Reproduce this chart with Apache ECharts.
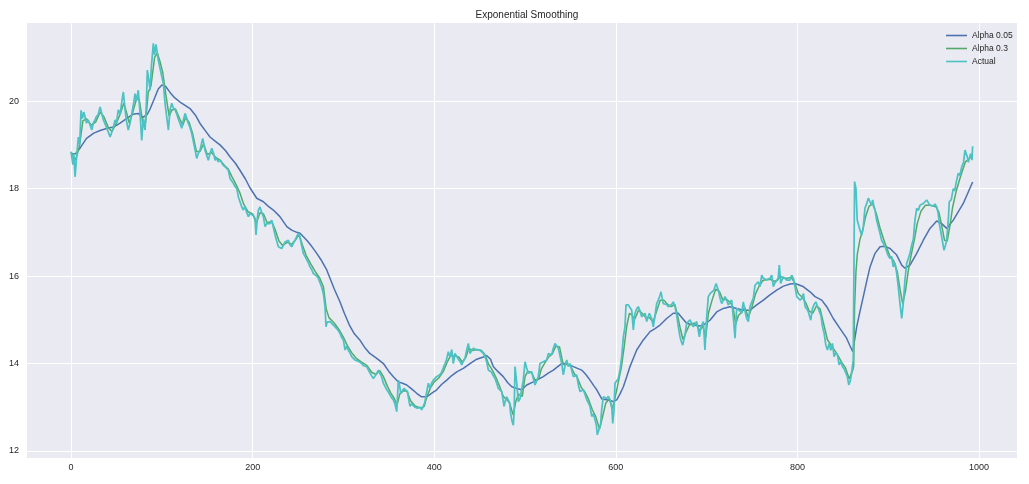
<!DOCTYPE html>
<html><head><meta charset="utf-8">
<script src="https://cdn.jsdelivr.net/npm/echarts@6/dist/echarts.min.js"></script>
<style>html,body{margin:0;padding:0;background:#fff}#c{width:1029px;height:484px}</style>
</head><body><div id="c"></div><script>
const chartTitle = "Exponential Smoothing";
const seriesNames = ["Alpha 0.05", "Alpha 0.3", "Actual"];

// [index, value]
const actual = [[0,18.84],[2,18.55],[3,18.8],[4.4,18.27],[6,18.7],[8,19.18],[9.5,19.0],[11,19.79],[12.5,19.6],[14,19.75],[15.4,19.72],[17,19.5],[19,19.57],[21,19.45],[22.8,19.34],[24.5,19.5],[26.4,19.57],[28,19.65],[30,19.7],[32,19.87],[34,19.7],[35.6,19.57],[38,19.45],[40,19.35],[43,19.18],[45,19.3],[46.5,19.4],[48.5,19.57],[50,19.5],[52,19.8],[54,19.7],[55.8,19.98],[57.6,20.21],[59.5,19.8],[61,19.55],[63,19.34],[65,19.5],[66.9,19.72],[68.5,19.9],[70.5,20.17],[72,20.0],[74,20.25],[76,19.72],[77.8,19.1],[79.5,19.6],[81.5,19.34],[83,20.0],[84,20.71],[85.5,20.5],[87,20.25],[88.5,20.8],[90.6,21.32],[92,21.05],[93.5,21.3],[95,21.1],[96.1,20.94],[98,20.75],[99.9,20.56],[101.7,20.4],[103.5,19.95],[105,19.7],[107.2,19.34],[109,19.8],[110.9,19.95],[112.5,19.85],[114.5,19.8],[116.5,19.7],[118,19.6],[120,19.49],[121.9,19.38],[123.5,19.55],[125.6,19.72],[127.5,19.6],[129.2,19.49],[131,19.4],[132.9,19.26],[134.5,19.1],[136.6,18.88],[138.4,18.69],[140,18.8],[142,18.88],[145,19.15],[147.6,18.88],[149.5,18.75],[151.2,18.65],[153,18.8],[155,18.92],[157,18.8],[158.6,18.65],[160,18.7],[162.2,18.61],[164.5,18.65],[167,18.55],[169.6,18.5],[171.5,18.48],[173.2,18.42],[175.1,18.23],[177,18.2],[178.7,18.12],[180.5,18.05],[182.5,18.0],[184.3,17.81],[186,17.85],[188,17.58],[189.8,17.51],[191.5,17.6],[193.5,17.45],[195.3,17.36],[197,17.43],[199,17.43],[201,17.38],[202.6,17.32],[203.7,16.94],[205,17.3],[206.3,17.51],[208.1,17.58],[210,17.45],[211.8,17.36],[213.7,17.13],[215.5,17.2],[217.3,17.24],[219,17.2],[221,17.28],[223,17.1],[224.7,16.94],[226.5,16.8],[228.3,16.67],[230,16.7],[232,16.63],[233.8,16.7],[235.7,16.78],[237.5,16.75],[239.3,16.82],[241,16.72],[243,16.67],[244.8,16.75],[246.7,16.82],[248.5,16.9],[250.3,16.98],[252,16.9],[254,16.7],[255.8,16.52],[257.7,16.45],[259.6,16.37],[261.5,16.3],[263.2,16.21],[265,16.15],[266.8,16.06],[268.7,16.1],[270.5,16.0],[272.3,15.95],[274.2,15.91],[276,15.75],[277.9,15.6],[279.7,15.3],[280.8,14.84],[282,14.95],[283.4,14.99],[285.2,14.96],[287.1,14.92],[289,14.88],[290.7,14.86],[292.5,14.8],[294.4,14.75],[296,14.7],[298,14.6],[299.9,14.54],[301.8,14.31],[303.5,14.4],[305.5,14.3],[307,14.25],[309.1,14.16],[311,14.12],[312.8,14.08],[314.5,14.12],[316.5,14.05],[318.5,14.02],[320.2,14.0],[322,13.95],[324,13.97],[325.7,13.93],[327.5,13.85],[329.3,13.78],[331,13.72],[333,13.66],[335,13.72],[336.7,13.78],[338.5,13.85],[340.3,13.89],[342,13.7],[344,13.55],[345.8,13.48],[347.7,13.4],[349.5,13.35],[351.3,13.28],[353,13.22],[355,13.17],[357,13.05],[358.7,12.9],[360.5,13.62],[361.8,13.5],[363.1,13.32],[365,13.38],[366.7,13.43],[368.5,13.4],[370.4,13.36],[371.8,13.2],[373.3,13.02],[375,13.08],[377,13.05],[379,13.0],[381.4,12.98],[384.4,13.0],[386.2,12.94],[388,12.96],[389.5,13.1],[391.7,13.35],[393.5,13.55],[395.4,13.42],[397,13.55],[399,13.62],[401,13.6],[402.7,13.7],[404.5,13.68],[406.5,13.75],[408.2,13.81],[410,13.9],[411.9,14.0],[413.7,14.1],[415.5,14.27],[417.3,14.15],[419.3,14.32],[421,14.0],[422.9,14.23],[424.7,14.2],[426.5,14.1],[428.4,14.05],[430.3,13.97],[432,14.05],[433.9,14.12],[435.7,14.3],[437.6,14.46],[439.4,14.23],[441.2,14.3],[443.1,14.35],[445,14.32],[446.8,14.31],[448.6,14.33],[450.5,14.3],[452.3,14.28],[454.1,14.23],[456,14.15],[457.8,14.04],[459.6,13.85],[461.5,13.88],[463.2,13.8],[465,13.72],[466.9,13.66],[468.8,13.55],[470.6,13.43],[472.5,13.4],[474.3,13.36],[475.6,13.2],[476.9,13.02],[478.3,13.15],[479.8,13.24],[481.5,13.2],[483,13.1],[484.2,12.86],[485.5,12.7],[487.1,12.59],[488,12.9],[489,13.93],[490.9,13.55],[492.6,13.13],[494.5,13.2],[496.4,13.24],[498.1,13.62],[500,14.04],[501.8,13.9],[503.6,13.78],[505.5,13.8],[507.4,13.81],[509.2,13.65],[511,13.51],[512.8,13.6],[514.6,13.7],[516.5,14.0],[518.3,14.02],[520.1,14.04],[522,14.05],[523.9,14.08],[525.7,14.23],[527.5,14.2],[529.4,14.2],[531.2,14.35],[533,14.46],[534.9,14.5],[536.7,14.35],[538.5,14.31],[540.4,14.0],[542.2,13.74],[544,13.95],[545.9,14.08],[547.7,13.93],[549.5,14.0],[551.4,13.85],[553.2,13.7],[555,13.72],[556.9,13.74],[558.8,13.5],[560.6,13.36],[562.4,13.38],[564.2,13.4],[566,13.3],[568,13.17],[569.8,13.1],[571.6,13.02],[573.5,12.79],[575.3,12.85],[577.1,12.86],[578.5,12.6],[579.6,12.37],[581.8,12.33],[583.2,12.6],[584.4,12.94],[586.2,13.24],[588,13.22],[590,13.2],[591.8,13.25],[593.6,13.17],[595.5,13.02],[596.6,12.63],[598,12.94],[599.1,13.55],[601,13.58],[602.8,13.66],[604.6,13.85],[606.5,14.16],[608.3,14.61],[610.1,14.84],[611.2,15.34],[612.5,15.3],[613.8,15.34],[615.6,15.3],[617.5,15.22],[619.3,14.77],[621.1,15.15],[623,15.25],[624.8,15.3],[626.7,15.2],[628.5,15.07],[630.3,15.1],[632.2,15.15],[634,14.96],[636.9,15.15],[639.5,15.03],[641.3,14.84],[643.2,15.1],[645,15.37],[646.8,15.45],[648.5,15.55],[649.8,15.64],[651,15.5],[652.3,15.37],[654,15.4],[656,15.35],[657.8,15.3],[659.7,15.26],[661.5,15.35],[663.3,15.41],[665.2,15.3],[667,15.11],[668.8,14.85],[670.7,14.61],[672.2,14.5],[673.7,14.42],[675,14.55],[676.2,14.65],[678,14.92],[679.8,14.95],[681.7,15.0],[683.5,15.0],[685.4,14.84],[687.3,14.9],[689.1,14.96],[690.5,14.8],[692,14.61],[694,14.85],[696.4,14.96],[698.2,14.31],[700.1,15.07],[701.9,15.53],[703.8,15.6],[706,15.62],[708.1,15.68],[710.4,15.83],[712.9,15.68],[714.8,15.5],[716.6,15.37],[718.4,15.45],[720.3,15.53],[722.1,15.45],[723.9,15.34],[725.8,15.4],[727.6,15.45],[729.4,15.07],[731.3,14.58],[733.1,15.26],[735,15.28],[736.8,15.2],[738.6,15.15],[740.4,15.41],[742.3,15.2],[744.2,15.03],[746,14.96],[747.8,15.3],[749.6,15.4],[751.4,15.49],[753.3,15.79],[755.1,15.75],[756.9,15.87],[758.8,15.76],[760.7,16.02],[762.4,15.95],[764.3,15.92],[766.2,15.91],[768,15.88],[769.9,15.95],[771.7,16.02],[773.5,15.76],[775.4,15.85],[777.2,15.9],[778.8,15.95],[780.1,16.25],[781.6,15.83],[783,15.91],[784.5,15.98],[786.3,16.0],[788.2,15.91],[790,15.95],[791.9,15.91],[793.7,16.02],[795.5,15.95],[797.4,15.76],[799.3,15.53],[801.1,15.55],[803,15.45],[804.8,15.5],[806.7,15.6],[808.5,15.3],[810.3,15.25],[812.1,15.18],[814.7,14.99],[816.6,15.26],[818.4,15.35],[820.3,15.41],[822.2,15.3],[824,15.26],[825.9,15.1],[827.7,14.84],[829.5,14.69],[831.3,14.42],[833.1,14.31],[834.9,14.46],[836.8,14.3],[838.6,14.46],[840.4,14.16],[842.3,14.25],[844.1,14.2],[846,13.97],[847.8,14.05],[849.6,13.93],[851.4,13.88],[853.2,13.85],[855,13.7],[856.6,13.51],[858.2,13.6],[859.7,13.78],[861.5,14.08],[863,18.16],[864.5,18.0],[865.9,17.28],[867.8,17.32],[868.9,17.05],[870.8,16.94],[872.6,17.13],[874.4,17.55],[876.2,17.65],[878.1,17.78],[879.9,17.7],[881.8,17.62],[882.9,17.74],[884,17.62],[885.5,17.51],[887.3,17.28],[889.1,17.13],[891,16.98],[892.8,16.82],[894.6,16.75],[896.5,16.67],[899,16.52],[900.5,16.45],[902,16.4],[903.8,16.45],[905.6,16.21],[907.5,16.3],[909.4,16.06],[911.1,15.76],[913,15.37],[914.9,15.03],[916.7,15.4],[918.5,15.91],[920.4,16.29],[922.2,16.4],[924,16.52],[925.8,16.7],[927.7,16.85],[929.5,17.28],[931.4,17.55],[933.2,17.5],[935,17.62],[936.9,17.6],[938.7,17.66],[940.5,17.7],[942.4,17.74],[944.2,17.68],[946,17.62],[947.8,17.65],[949.7,17.6],[951.5,17.65],[953.4,17.58],[955,17.45],[956.3,17.2],[958.9,16.9],[961.5,16.59],[963,16.7],[964.4,16.82],[966.2,17.28],[967.3,17.7],[969.5,17.75],[971.7,18.0],[973.3,17.95],[974.7,18.12],[977.2,18.35],[979,18.3],[981,18.5],[983,18.6],[984.6,18.88],[987.1,18.73],[988.3,18.6],[989.3,18.58],[990.8,18.8],[992.3,18.65],[993,18.97]];

const alpha03 = [[0,18.84],[5,18.65],[9,18.95],[13,19.55],[17,19.6],[22,19.45],[27,19.52],[32,19.75],[36,19.65],[41,19.4],[45,19.3],[50,19.5],[54,19.7],[58,19.95],[61,19.75],[64,19.5],[68,19.75],[72,20.05],[75,20.05],[79,19.5],[82,19.5],[85,20.2],[88,20.35],[92,21.0],[95,21.1],[98,20.9],[101,20.65],[104,20.2],[108,19.65],[111,19.8],[115,19.82],[120,19.58],[123,19.45],[126,19.62],[130,19.52],[134,19.25],[138,18.85],[142,18.85],[146,19.02],[150,18.78],[155,18.82],[159,18.72],[164,18.65],[169,18.53],[173,18.45],[177,18.28],[182,18.08],[186,17.9],[190,17.65],[195,17.47],[200,17.42],[204,17.2],[208,17.45],[212,17.42],[216,17.22],[221,17.25],[225,17.05],[229,16.8],[233,16.7],[238,16.77],[243,16.73],[248,16.85],[251,16.95],[255,16.7],[259,16.47],[264,16.28],[269,16.1],[274,15.95],[278,15.75],[281,15.25],[284,15.05],[290,14.92],[295,14.78],[300,14.6],[304,14.42],[309,14.25],[314,14.12],[320,14.03],[326,13.95],[331,13.8],[336,13.75],[340,13.84],[344,13.7],[348,13.5],[352,13.33],[356,13.2],[359,13.05],[362,13.3],[366,13.38],[370,13.37],[374,13.15],[379,13.03],[385,12.98],[389,13.02],[392,13.25],[396,13.45],[400,13.58],[405,13.67],[410,13.82],[414,14.02],[418,14.18],[422,14.18],[427,14.15],[431,14.03],[435,14.15],[438,14.35],[442,14.3],[447,14.32],[452,14.3],[456,14.2],[460,13.98],[464,13.85],[468,13.68],[472,13.48],[476,13.25],[480,13.17],[483,13.1],[487,12.82],[490,13.15],[493,13.3],[497,13.25],[500,13.7],[503,13.82],[507,13.8],[511,13.62],[515,13.65],[518,13.88],[522,14.02],[526,14.15],[530,14.22],[534,14.4],[538,14.38],[542,13.98],[546,13.98],[550,13.95],[554,13.78],[558,13.66],[562,13.45],[566,13.35],[570,13.18],[574,12.95],[578,12.78],[582,12.5],[585,12.75],[589,13.1],[593,13.2],[596,12.95],[599,13.2],[602,13.5],[606,13.9],[609,14.35],[612,14.85],[615,15.15],[618,15.1],[621,15.02],[625,15.22],[629,15.15],[633,15.05],[637,15.05],[641,14.95],[645,15.2],[649,15.45],[653,15.45],[657,15.35],[661,15.3],[665,15.35],[668,15.1],[671,14.8],[674,14.55],[677,14.7],[681,14.88],[685,14.92],[689,14.92],[692,14.75],[696,14.85],[699,14.6],[702,15.15],[706,15.45],[710,15.7],[714,15.65],[718,15.45],[722,15.47],[726,15.4],[729,15.3],[732,14.9],[735,15.1],[739,15.18],[742,15.28],[746,15.05],[750,15.3],[754,15.6],[758,15.78],[762,15.9],[766,15.92],[770,15.93],[774,15.88],[778,15.9],[781,16.0],[785,15.95],[789,15.95],[793,15.97],[797,15.85],[801,15.6],[805,15.52],[809,15.4],[813,15.2],[817,15.15],[821,15.32],[825,15.25],[829,14.9],[833,14.55],[837,14.42],[841,14.3],[845,14.17],[849,14.02],[853,13.9],[857,13.65],[861,13.85],[862,13.95],[863,15.3],[864.5,16.1],[866,16.5],[869,16.85],[872,17.05],[875,17.35],[879,17.6],[883,17.65],[887,17.42],[891,17.1],[896,16.78],[902,16.45],[906,16.35],[910,16.1],[913,15.7],[916,15.37],[919,15.65],[922,16.1],[925,16.45],[929,16.85],[932,17.2],[936,17.48],[941,17.62],[947,17.62],[953,17.58],[956,17.45],[959,17.15],[962,16.82],[965,16.8],[968,17.15],[971,17.58],[975,17.95],[980,18.3],[985,18.61],[990,18.7],[993,18.77]];

const alpha005 = [[0,18.8],[5,18.8],[10,18.93],[17,19.15],[25,19.27],[32,19.33],[40,19.38],[47,19.41],[54,19.5],[61,19.6],[68,19.7],[74,19.72],[79,19.63],[84,19.7],[87,19.82],[91,20.02],[96,20.28],[100,20.37],[104,20.34],[109,20.2],[114,20.08],[120,19.98],[126,19.9],[131,19.83],[137,19.68],[142,19.49],[148,19.32],[153,19.18],[159,19.08],[164,19.0],[170,18.87],[175,18.73],[181,18.58],[186,18.42],[192,18.22],[197,18.02],[204.5,17.78],[211.8,17.7],[217,17.6],[222.8,17.51],[230,17.36],[237.6,17.13],[243,17.05],[248.6,17.0],[252.2,16.98],[259.6,16.82],[265,16.68],[270.6,16.52],[276,16.35],[281.6,16.14],[285.2,15.95],[290,15.7],[296,15.42],[301,15.15],[307,14.86],[312,14.68],[318,14.54],[323,14.38],[329,14.23],[336.7,14.12],[344,14.0],[350,13.82],[355,13.7],[360.5,13.58],[365,13.55],[369.7,13.51],[375,13.42],[380.7,13.32],[386,13.24],[391.7,13.24],[397,13.32],[402.7,13.4],[408,13.52],[413.8,13.62],[419,13.72],[424.8,13.81],[432,13.89],[439.4,14.0],[446.8,14.1],[454,14.15],[458,14.18],[462,14.1],[465,13.93],[470,13.82],[476,13.7],[481,13.56],[485.4,13.47],[490.9,13.43],[496.4,13.4],[501.9,13.51],[509.1,13.58],[514.5,13.64],[520.1,13.7],[525.6,13.78],[531.2,13.85],[536,13.93],[540.4,14.0],[545,14.0],[549,13.97],[553.2,13.93],[557.8,13.89],[562.4,13.85],[567,13.75],[571.6,13.62],[575.5,13.5],[579,13.4],[584.5,13.19],[590,13.17],[597.2,13.13],[601,13.17],[604.5,13.3],[608.3,13.47],[612,13.7],[615.6,13.93],[619.3,14.12],[623,14.31],[630.3,14.54],[637.7,14.73],[643.2,14.8],[648.7,14.88],[656,15.03],[663.3,15.15],[668.8,15.15],[674,15.02],[678,14.92],[685.4,14.88],[692.7,14.86],[696.4,14.88],[703.7,14.99],[711.1,15.18],[718.4,15.26],[725.8,15.3],[733.1,15.26],[740.4,15.22],[747.8,15.22],[755.2,15.34],[762.5,15.45],[769.8,15.57],[777.2,15.68],[784.6,15.77],[792,15.82],[797.4,15.83],[806.4,15.76],[813.9,15.64],[819.4,15.53],[826.8,15.45],[832.3,15.3],[839.5,15.03],[847,14.8],[854.2,14.58],[858,14.4],[861,14.27],[865.3,14.84],[869,15.2],[872.6,15.53],[876,15.85],[880,16.21],[885.5,16.52],[891,16.67],[896.5,16.68],[902,16.63],[909.4,16.48],[914.9,16.25],[918.5,16.18],[924,16.25],[931.4,16.52],[938.7,16.82],[946,17.09],[953.4,17.26],[958.9,17.2],[964.4,17.09],[971.7,17.28],[982.7,17.66],[993,18.15]];

const xRange = [-49.65, 1042.65];
const yRange = [11.84, 21.81];

const colors = ["#4C72B0", "#55A868", "#4CC2C4"];
const txt = "#262626";
const font = "'Liberation Sans', Arial, sans-serif";

const chart = echarts.init(document.getElementById('c'), null, {renderer: 'canvas'});
const isStep = (v, s) => Math.abs(v / s - Math.round(v / s)) < 1e-6;
chart.setOption({
  animation: false,
  backgroundColor: '#ffffff',
  title: {
    text: chartTitle, left: 522, top: 5, textAlign: 'center',
    textStyle: {fontFamily: font, fontSize: 10, fontWeight: 'normal', color: txt}
  },
  legend: {
    data: seriesNames, orient: 'vertical', left: 941, top: 25,
    icon: 'rect', itemWidth: 21, itemHeight: 1.6, itemGap: 2,
    textStyle: {fontFamily: font, fontSize: 8.5, color: txt, lineHeight: 11}
  },
  grid: {left: 26, right: 11.3, top: 22, bottom: 26, backgroundColor: '#EAEAF2', show: true, borderWidth: 0},
  xAxis: {
    type: 'value', min: xRange[0], max: xRange[1], splitNumber: 5,
    axisLine: {show: false}, axisTick: {show: false},
    axisLabel: {fontFamily: font, fontSize: 9, color: txt, margin: 5, showMinLabel: false, showMaxLabel: false,
      formatter: v => isStep(v, 200) ? String(Math.round(v)) : ''},
    splitLine: {show: true, lineStyle: {color: '#ffffff', width: 1}}
  },
  yAxis: {
    type: 'value', min: yRange[0], max: yRange[1], splitNumber: 5,
    axisLine: {show: false}, axisTick: {show: false},
    axisLabel: {fontFamily: font, fontSize: 9, color: txt, margin: 7, showMinLabel: false, showMaxLabel: false,
      formatter: v => isStep(v, 2) ? String(Math.round(v)) : ''},
    splitLine: {show: true, lineStyle: {color: '#ffffff', width: 1}}
  },
  series: [
    {name: seriesNames[0], type: 'line', data: alpha005, showSymbol: false, symbol: 'none', color: colors[0], lineStyle: {width: 1.5, color: colors[0]}, z: 2},
    {name: seriesNames[1], type: 'line', data: alpha03, showSymbol: false, symbol: 'none', color: colors[1], lineStyle: {width: 1.5, color: colors[1]}, z: 3},
    {name: seriesNames[2], type: 'line', data: actual, showSymbol: false, symbol: 'none', color: colors[2], lineStyle: {width: 1.75, color: colors[2]}, z: 4}
  ]
});
</script></body></html>
